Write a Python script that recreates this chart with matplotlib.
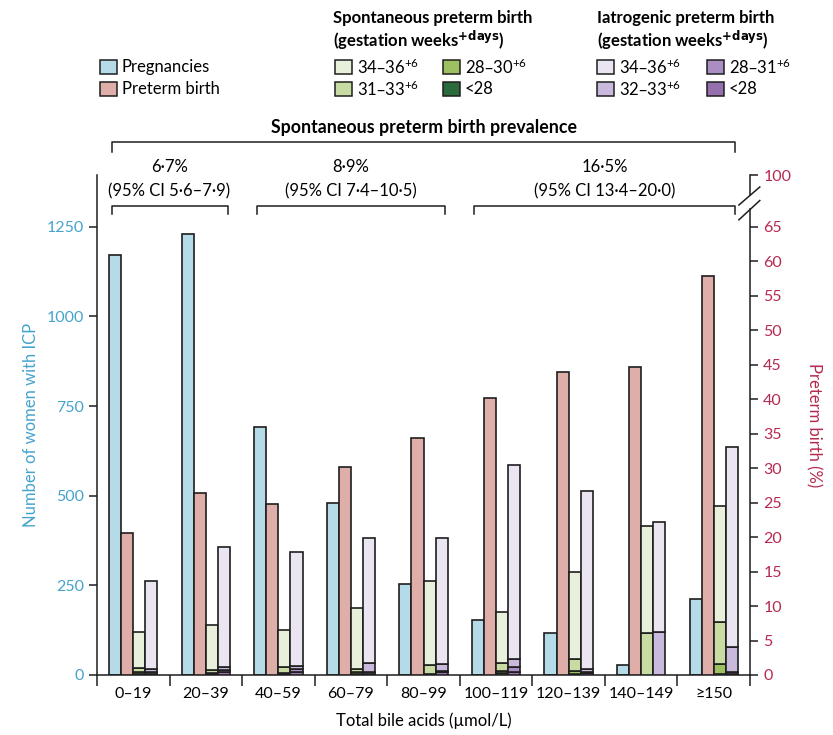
import numpy as np
import matplotlib
matplotlib.use("Agg")
from matplotlib import pyplot as plt
from matplotlib.patches import Rectangle
from matplotlib import transforms

plt.rcParams['font.family'] = ['Lato', 'DejaVu Sans']
plt.rcParams['mathtext.default'] = 'regular'

# ---- data ----
groups = ["0–19", "20–39", "40–59", "60–79", "80–99", "100–119", "120–139", "140–149", "≥150"]
pregnancies = [1170, 1231, 692, 481, 254, 154, 118, 28, 212]
preterm = [20.6, 26.4, 24.8, 30.2, 34.4, 40.1, 43.9, 44.7, 57.9]

spont_lt28 = [0.2, 0.1, 0.1, 0.15, 0.1, 0.3, 0.15, 0.0, 0.1]
spont_28_30 = [0.3, 0.2, 0.2, 0.35, 0.1, 0.25, 0.5, 0.0, 1.5]
spont_31_33 = [0.5, 0.4, 0.85, 0.3, 1.3, 1.2, 1.7, 6.07, 6.06]
spont_34_36 = [5.2, 6.6, 5.35, 8.95, 12.1, 7.4, 12.55, 15.6, 16.84]

iat_lt28 = [0.2, 0.4, 0.4, 0.2, 0.4, 0.5, 0.3, 0.0, 0.2]
iat_28_31 = [0.2, 0.35, 0.4, 0.3, 0.25, 0.65, 0.1, 0.0, 0.25]
iat_32_33 = [0.4, 0.4, 0.55, 1.25, 0.9, 1.2, 0.4, 6.2, 3.6]
iat_34_36 = [12.9, 17.35, 16.55, 18.15, 18.35, 28.15, 25.9, 16.0, 28.95]

prevalence = [("6·7%", "(95% CI 5·6–7·9)", 0, 1),
              ("8·9%", "(95% CI 7·4–10·5)", 2, 4),
              ("16·5%", "(95% CI 13·4–20·0)", 5, 8)]

# ---- colours ----
c_blue = "#b5dae8"
c_pink = "#dfaea8"
greens = ["#2b6b3b", "#9dc061", "#c8dba2", "#e8f0dc"]
purples = ["#9670ad", "#a98dc3", "#c9b9dc", "#ebe5f2"]
c_left = "#45a3cc"
c_right = "#b52a4e"
edge = "#1e1e1e"

W, H = 833, 735
fig = plt.figure(figsize=(W / 100, H / 100), dpi=100)


def fx(px):
    return px / W


def fy(py):
    return 1 - py / H


ax = fig.add_axes([fx(97), fy(675), fx(750) - fx(97), fy(175) - fy(675)])
ax2 = ax.twinx()

ytop = 72.5
ax2.set_ylim(0, ytop)
ax.set_ylim(0, ytop * 1250 / 65)
ax.set_xlim(0, 9)

x = np.arange(len(groups))
bw = 0.1667
x0 = x + 0.1667

ax.bar(x0, pregnancies, width=bw, align='edge', color=c_blue, edgecolor=edge, lw=1.2)
ax2.bar(x0 + bw, preterm, width=bw, align='edge', color=c_pink, edgecolor=edge, lw=1.2)

bottom = np.zeros(len(groups))
for vals, col in zip([spont_lt28, spont_28_30, spont_31_33, spont_34_36], greens):
    ax2.bar(x0 + 2 * bw, vals, width=bw, bottom=bottom, align='edge', color=col, edgecolor=edge, lw=1.2)
    bottom += np.array(vals)

bottom = np.zeros(len(groups))
for vals, col in zip([iat_lt28, iat_28_31, iat_32_33, iat_34_36], purples):
    ax2.bar(x0 + 3 * bw, vals, width=bw, bottom=bottom, align='edge', color=col, edgecolor=edge, lw=1.2)
    bottom += np.array(vals)

# axes styling
for s in ['top', 'right']:
    ax.spines[s].set_visible(False)
for s in ['top', 'left', 'bottom', 'right']:
    ax2.spines[s].set_visible(False)
ax.spines['left'].set_color(edge)
ax.spines['bottom'].set_color(edge)
ax.spines['left'].set_linewidth(1.1)
ax.spines['bottom'].set_linewidth(1.1)

ax.set_yticks([0, 250, 500, 750, 1000, 1250])
ax.tick_params(axis='y', colors=edge, labelcolor=c_left, labelsize=11.5, length=6, width=1.1)
ax.set_xticks(np.arange(10))
ax.set_xticklabels([])
ax.set_xticks(x + 0.5, minor=True)
ax.set_xticklabels(groups, minor=True)
ax.tick_params(axis='x', which='major', length=8, width=1.1, colors=edge)
ax.tick_params(axis='x', which='minor', length=0, labelsize=11.5, pad=9)

ax2.set_yticks(list(range(0, 70, 5)) + [ytop])
ax2.set_yticklabels([str(v) for v in range(0, 70, 5)] + ["100"])
ax2.tick_params(axis='y', colors=edge, labelcolor=c_right, labelsize=11.5, length=6, width=1.1)

# broken right spine
yt = ax2.get_yaxis_transform()
ax2.plot([1, 1], [0, 67.6], color=edge, lw=1.1, transform=yt, clip_on=False)
ax2.plot([1, 1], [69.6, ytop], color=edge, lw=1.1, transform=yt, clip_on=False)
ax2.plot([0.983, 1.015], [68.15, 70.76], color=edge, lw=1.1, transform=yt, clip_on=False)
ax2.plot([0.983, 1.015], [66.0, 68.8], color=edge, lw=1.1, transform=yt, clip_on=False)

ax.set_ylabel("Number of women with ICP", color=c_left, fontsize=12, labelpad=5)
ax2.set_ylabel("Preterm birth (%)", color=c_right, fontsize=12, rotation=270, labelpad=22)
ax.set_xlabel("Total bile acids (µmol/L)", fontsize=12, labelpad=8)

# prevalence brackets
bt = transforms.blended_transform_factory(ax.transData, fig.transFigure)
for top_txt, ci_txt, i, j in prevalence:
    xa, xb = i + 0.2, j + 0.8
    ax.plot([xa, xa, xb, xb], [fy(214), fy(206), fy(206), fy(214)], color=edge, lw=1.1,
            transform=bt, clip_on=False)
    xm = (xa + xb) / 2
    fig.text(0, 0, top_txt, transform=bt, fontsize=12, ha='center', va='center').set_position((xm, fy(167)))
    fig.text(0, 0, ci_txt, transform=bt, fontsize=12, ha='center', va='center').set_position((xm, fy(191)))

xa, xb = 0.2, 8.8
ax.plot([xa, xa, xb, xb], [fy(152), fy(142), fy(142), fy(152)], color=edge, lw=1.1,
        transform=bt, clip_on=False)
fig.text(fx(424), fy(127), "Spontaneous preterm birth prevalence", fontsize=12.8, fontweight='bold',
         ha='center', va='center')

# legend


def legend_box(px, py, col, label):
    fig.patches.append(Rectangle((fx(px), fy(py + 7)), fx(17), 14 / H, transform=fig.transFigure,
                                 facecolor=col, edgecolor=edge, lw=1.1))
    fig.text(fx(px + 22), fy(py), label, fontsize=12, ha='left', va='center')


legend_box(100, 67, c_blue, "Pregnancies")
legend_box(100, 89, c_pink, "Preterm birth")

fig.text(fx(333), fy(18), "Spontaneous preterm birth", fontsize=12, fontweight='bold', va='center')
fig.text(fx(333), fy(40), "(gestation weeks$^{\\mathbf{+days}}$)", fontsize=12, fontweight='bold', va='center')
legend_box(335, 67, greens[3], "34–36$^{+6}$")
legend_box(443, 67, greens[1], "28–30$^{+6}$")
legend_box(335, 89, greens[2], "31–33$^{+6}$")
legend_box(443, 89, greens[0], "<28")

fig.text(fx(597), fy(18), "Iatrogenic preterm birth", fontsize=12, fontweight='bold', va='center')
fig.text(fx(597), fy(40), "(gestation weeks$^{\\mathbf{+days}}$)", fontsize=12, fontweight='bold', va='center')
legend_box(597, 67, purples[3], "34–36$^{+6}$")
legend_box(707, 67, purples[1], "28–31$^{+6}$")
legend_box(597, 89, purples[2], "32–33$^{+6}$")
legend_box(707, 89, purples[0], "<28")

fig.savefig("out.png", dpi=100)
